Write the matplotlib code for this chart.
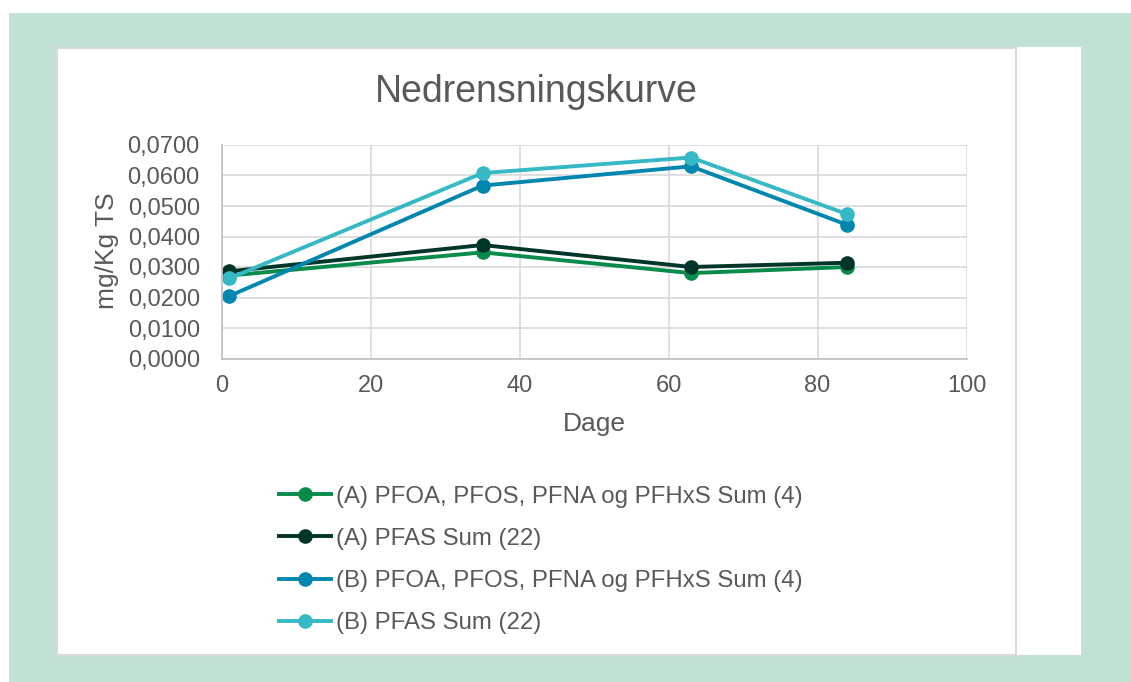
import matplotlib.pyplot as plt
from matplotlib.patches import Rectangle
from matplotlib.ticker import FuncFormatter, MultipleLocator

plt.rcParams['font.family'] = ['Liberation Sans', 'DejaVu Sans']

dage = [1, 35, 63, 84]
a_sum4 = [0.0272, 0.0348, 0.0280, 0.0300]
a_sum22 = [0.0286, 0.0372, 0.0300, 0.0314]
b_sum4 = [0.0205, 0.0567, 0.0630, 0.0438]
b_sum22 = [0.0263, 0.0608, 0.0659, 0.0473]

labels = ["(A) PFOA, PFOS, PFNA og PFHxS Sum (4)",
          "(A) PFAS Sum (22)",
          "(B) PFOA, PFOS, PFNA og PFHxS Sum (4)",
          "(B) PFAS Sum (22)"]
colors = ["#078B4B", "#00362A", "#0087B0", "#35B9C5"]

W, H = 1131, 682
fig = plt.figure(figsize=(W / 100, H / 100), dpi=100)

# background frames (pixel coords converted to figure fractions)
def px_rect(x0, y0, x1, y1, **kw):
    return Rectangle((x0 / W, 1 - y1 / H), (x1 - x0) / W, (y1 - y0) / H,
                     transform=fig.transFigure, **kw)

fig.patches.append(px_rect(9, 13, W + 5, H + 5, facecolor="#C0E1D3", edgecolor="none", zorder=0))
fig.patches.append(px_rect(57, 47, 1081, 655, facecolor="white", edgecolor="none", zorder=1))
fig.patches.append(px_rect(56.5, 47.5, 1016, 654.5, facecolor="none", edgecolor="#D9D9D9", lw=1.5, zorder=2))

ax = fig.add_axes([222 / W, 1 - 358.5 / H, (966.5 - 222) / W, (358.5 - 145) / H])
ax.set_facecolor("none")
ax.set_zorder(3)

series = [a_sum4, a_sum22, b_sum4, b_sum22]
for vals, lab, col in zip(series, labels, colors):
    ax.plot(dage, vals, color=col, lw=2.8, marker="o", markersize=9.5, label=lab)

ax.set_xlim(0, 100)
ax.set_ylim(0, 0.07)
ax.xaxis.set_major_locator(MultipleLocator(20))
ax.yaxis.set_major_locator(MultipleLocator(0.01))
ax.yaxis.set_major_formatter(FuncFormatter(lambda v, p: f"{v:.4f}".replace(".", ",")))
ax.grid(True, color="#D9D9D9", lw=1.2)
ax.set_axisbelow(True)
for s in ["top", "right"]:
    ax.spines[s].set_visible(False)
for s in ["left", "bottom"]:
    ax.spines[s].set_color("#BFBFBF")
    ax.spines[s].set_linewidth(1.2)
ax.tick_params(length=0, labelsize=17, labelcolor="#595959")
ax.tick_params(axis="y", pad=16)
ax.tick_params(axis="x", pad=12)

ax.set_xlabel("Dage", fontsize=19, color="#595959", va="center")
ax.set_ylabel("mg/Kg TS", fontsize=19, color="#595959", va="center")
ax.xaxis.set_label_coords(0.5, (358.5 - 424) / 213.5)
ax.yaxis.set_label_coords((107 - 222) / 744.5, 0.503)

fig.text(536 / W, 1 - 92 / H, "Nedrensningskurve", ha="center", va="center",
         fontsize=27, color="#595959")

leg = fig.legend(loc="upper left", bbox_to_anchor=(257 / W, 1 - 464 / H),
                 frameon=False, fontsize=17.3, labelcolor="#595959",
                 handlelength=2.17, handletextpad=0.2, labelspacing=0.84)

fig.savefig("out.png", dpi=100)
